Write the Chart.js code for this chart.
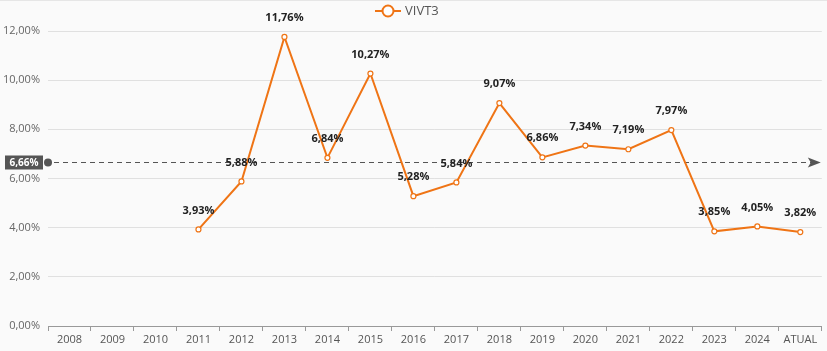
<!DOCTYPE html>
<html>
<head>
<meta charset="utf-8">
<script src="https://cdn.jsdelivr.net/npm/chart.js@4"></script>
<style>
  html, body { margin: 0; padding: 0; background: #fafafa; }
  #wrap { width: 827px; height: 351px; position: relative; }
</style>
</head>
<body>
<div id="wrap"><canvas id="chart"></canvas></div>
<script>
// Data
const years = ['2008', '2009', '2010', '2011', '2012', '2013', '2014', '2015', '2016',
    '2017', '2018', '2019', '2020', '2021', '2022', '2023', '2024', 'ATUAL'];
const yieldValues = [null, null, null, 3.93, 5.88, 11.76, 6.84, 10.27, 5.28,
    5.84, 9.07, 6.86, 7.34, 7.19, 7.97, 3.85, 4.05, 3.82];
const seriesName = 'VIVT3';
const averageValue = 6.66;
const yTicks = [0, 2, 4, 6, 8, 10, 12];

const orange = '#ef7415';
const fontFamily = '"Open Sans", "Noto Sans", sans-serif';

function fmtPct(v) {
    return v.toFixed(2).replace('.', ',') + '%';
}

// background + top border
const bgPlugin = {
    id: 'bg',
    beforeDraw(chart) {
        const c = chart.ctx;
        c.save();
        c.fillStyle = '#fafafa';
        c.fillRect(0, 0, chart.width, chart.height);
        c.fillStyle = '#e6e6e6';
        c.fillRect(0, 0, chart.width, 1);
        c.restore();
    }
};

// legend drawn by hand (line + open circle + name)
const legendPlugin = {
    id: 'miniLegend',
    afterDraw(chart) {
        const c = chart.ctx;
        c.save();
        c.strokeStyle = orange;
        c.lineWidth = 2;
        c.beginPath();
        c.moveTo(375, 11);
        c.lineTo(401, 11);
        c.stroke();
        c.beginPath();
        c.arc(388, 11, 5.5, 0, Math.PI * 2);
        c.fillStyle = '#fff';
        c.fill();
        c.stroke();
        c.fillStyle = '#555';
        c.font = '13px ' + fontFamily;
        c.textBaseline = 'middle';
        c.fillText(seriesName, 405, 11);
        c.restore();
    }
};

// dashed average line with marker, arrow and label box
const averagePlugin = {
    id: 'averageLine',
    beforeDatasetsDraw(chart) {
        const c = chart.ctx;
        const area = chart.chartArea;
        const y = Math.round(chart.scales.y.getPixelForValue(averageValue)) + 0.5;
        c.save();
        c.strokeStyle = '#555';
        c.lineWidth = 1;
        c.setLineDash([5, 4]);
        c.beginPath();
        c.moveTo(area.left + 6, y);
        c.lineTo(area.right - 10, y);
        c.stroke();
        c.setLineDash([]);
        // marker dot
        c.fillStyle = '#555';
        c.beginPath();
        c.arc(area.left, y, 4, 0, Math.PI * 2);
        c.fill();
        // arrow head
        c.beginPath();
        c.moveTo(area.right - 14, y - 5);
        c.lineTo(area.right - 1, y);
        c.lineTo(area.right - 14, y + 5);
        c.lineTo(area.right - 11, y);
        c.closePath();
        c.fill();
        // label box
        c.fillStyle = '#555';
        c.fillRect(5, y - 7, 38, 14);
        c.fillStyle = '#fff';
        c.font = 'bold 10px ' + fontFamily;
        c.textAlign = 'center';
        c.textBaseline = 'middle';
        c.fillText(fmtPct(averageValue), 24, y + 0.5);
        c.restore();
    }
};

// value labels above each point
const labelsPlugin = {
    id: 'pointLabels',
    afterDatasetsDraw(chart) {
        const c = chart.ctx;
        const meta = chart.getDatasetMeta(0);
        c.save();
        c.font = 'bold 11px ' + fontFamily;
        c.fillStyle = '#222';
        c.textAlign = 'center';
        c.textBaseline = 'middle';
        meta.data.forEach((pt, i) => {
            const v = yieldValues[i];
            if (v === null) return;
            c.fillText(fmtPct(v), pt.x, pt.y - 19);
        });
        c.restore();
    }
};

const ctx = document.getElementById('chart').getContext('2d');

const chart = new Chart(ctx, {
    type: 'line',
    data: {
        labels: years,
        datasets: [{
            label: seriesName,
            data: yieldValues,
            borderColor: orange,
            backgroundColor: '#fff',
            borderWidth: 2,
            pointRadius: 2.5,
            pointBorderWidth: 1.2,
            pointBackgroundColor: '#fff',
            pointBorderColor: orange,
            tension: 0,
            clip: false
        }]
    },
    options: {
        responsive: true,
        maintainAspectRatio: false,
        animation: false,
        layout: { padding: { top: 31, right: 4, left: 0, bottom: 0 } },
        plugins: {
            legend: { display: false },
            tooltip: { enabled: false }
        },
        scales: {
            x: {
                offset: true,
                grid: {
                    display: true,
                    offset: true,
                    drawOnChartArea: false,
                    drawTicks: true,
                    tickLength: 5,
                    color: '#999'
                },
                border: { display: true, color: '#999', width: 1 },
                ticks: {
                    color: '#555',
                    font: { family: fontFamily, size: 11 },
                    padding: 2,
                    maxRotation: 0,
                    autoSkip: false
                },
                afterFit(scale) { scale.height = 25; }
            },
            y: {
                min: 0,
                max: 12,
                afterBuildTicks(scale) {
                    scale.ticks = yTicks.map(v => ({ value: v }));
                },
                grid: {
                    color: (c) => c.tick && c.tick.value === 0 ? 'rgba(0,0,0,0)' : '#e0e0e0',
                    drawTicks: false
                },
                border: { display: false },
                ticks: {
                    color: '#666',
                    font: { family: fontFamily, size: 11 },
                    padding: 8,
                    callback: (v) => fmtPct(v)
                },
                afterFit(scale) { scale.width = 48; }
            }
        }
    },
    plugins: [bgPlugin, averagePlugin, labelsPlugin, legendPlugin]
});
</script>
</body>
</html>
